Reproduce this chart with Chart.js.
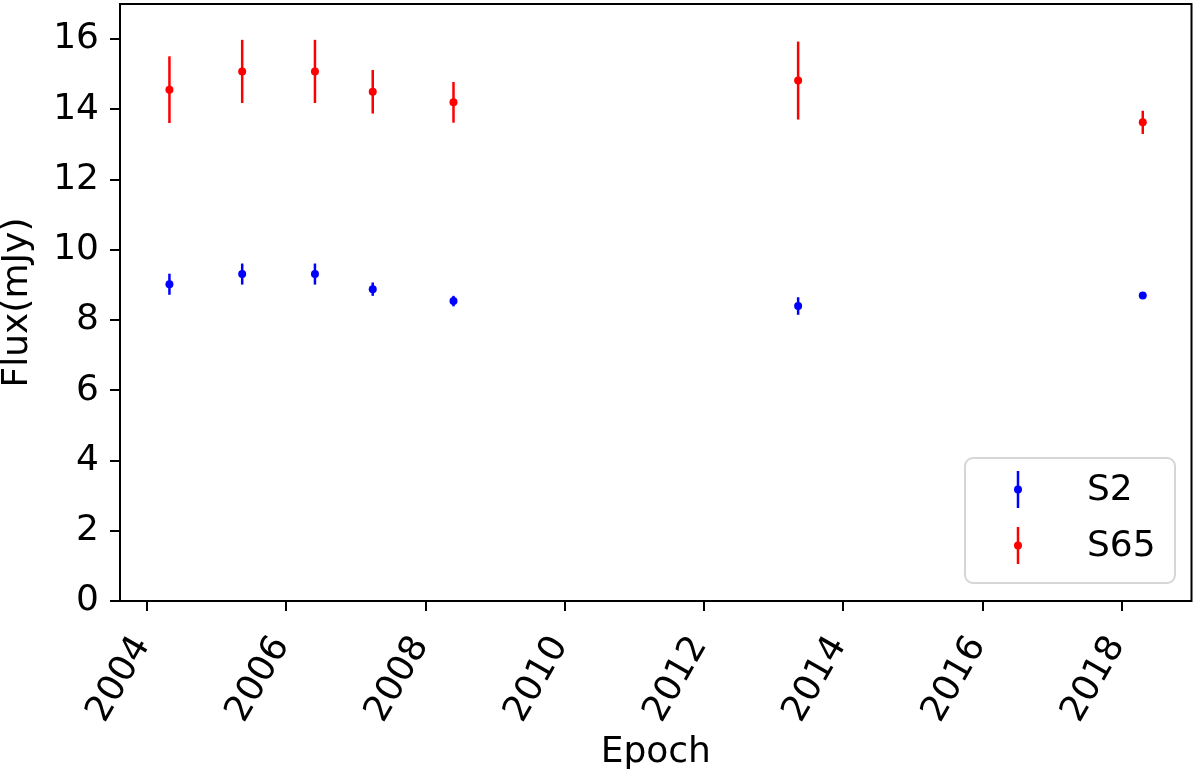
<!DOCTYPE html>
<html>
<head>
<meta charset="utf-8">
<script src="https://cdn.jsdelivr.net/npm/chart.js@4.4.1/dist/chart.umd.min.js"></script>
<style>
  html, body { margin: 0; padding: 0; background: #fff; }
  #wrap { width: 1200px; height: 780px; }
</style>
</head>
<body>
<div id="wrap"><canvas id="fluxChart"></canvas></div>
<script>
const epochs = [2004.32, 2005.365, 2006.41, 2007.24, 2008.40, 2013.35, 2018.30];
const s2Flux = [9.02, 9.31, 9.31, 8.88, 8.54, 8.40, 8.70];
const s2Err = [0.30, 0.30, 0.30, 0.19, 0.15, 0.25, 0.05];
const s65Flux = [14.56, 15.08, 15.08, 14.50, 14.20, 14.82, 13.63];
const s65Err = [0.95, 0.90, 0.90, 0.62, 0.58, 1.11, 0.33];

const xTicks = [2004, 2006, 2008, 2010, 2012, 2014, 2016, 2018];
const yTicks = [0, 2, 4, 6, 8, 10, 12, 14, 16];
const xRange = [2003.61, 2019.0];
const yRange = [0, 17];

const FONT = 'DejaVu Sans';

function toPoints(values, errors) {
  return epochs.map((x, i) => ({ x, y: values[i], err: errors[i] }));
}

// vertical error bars, drawn under the markers
const errorBars = {
  id: 'errorBars',
  beforeDatasetsDraw(chart) {
    const { ctx, scales: { x, y } } = chart;
    chart.data.datasets.forEach(ds => {
      ctx.save();
      ctx.strokeStyle = ds.backgroundColor;
      ctx.lineWidth = 2.5;
      ds.data.forEach(p => {
        const px = x.getPixelForValue(p.x);
        ctx.beginPath();
        ctx.moveTo(px, y.getPixelForValue(p.y - p.err));
        ctx.lineTo(px, y.getPixelForValue(p.y + p.err));
        ctx.stroke();
      });
      ctx.restore();
    });
  },
};

// axes box + matplotlib-style legend
const frameAndLegend = {
  id: 'frameAndLegend',
  afterDraw(chart) {
    const { ctx, chartArea: a } = chart;
    ctx.save();
    ctx.strokeStyle = '#000';
    ctx.lineWidth = 2;
    ctx.strokeRect(a.left, a.top, a.right - a.left, a.bottom - a.top);

    const bx = 965, by = 458, bw = 210, bh = 125;
    ctx.beginPath();
    ctx.roundRect(bx, by, bw, bh, 8);
    ctx.fillStyle = 'rgba(255,255,255,0.8)';
    ctx.fill();
    ctx.strokeStyle = '#d6d6d6';
    ctx.lineWidth = 2;
    ctx.stroke();

    ctx.font = `36px "${FONT}"`;
    ctx.textBaseline = 'middle';
    ctx.textAlign = 'left';
    chart.data.datasets.forEach((ds, i) => {
      const cy = 489.5 + i * 56;
      const mx = 1018;
      ctx.strokeStyle = ds.backgroundColor;
      ctx.lineWidth = 2.5;
      ctx.beginPath();
      ctx.moveTo(mx, cy - 18.5);
      ctx.lineTo(mx, cy + 18.5);
      ctx.stroke();
      ctx.fillStyle = ds.backgroundColor;
      ctx.beginPath();
      ctx.arc(mx, cy, 4, 0, Math.PI * 2);
      ctx.fill();
      ctx.fillStyle = '#000';
      ctx.fillText(ds.label, 1087, cy + 1);
    });
    ctx.restore();
  },
};

const ctx = document.getElementById('fluxChart').getContext('2d');
new Chart(ctx, {
  type: 'scatter',
  data: {
    datasets: [
      {
        label: 'S2',
        data: toPoints(s2Flux, s2Err),
        backgroundColor: '#0000ff',
        borderWidth: 0,
        pointRadius: 4,
        pointHoverRadius: 4,
      },
      {
        label: 'S65',
        data: toPoints(s65Flux, s65Err),
        backgroundColor: '#ff0000',
        borderWidth: 0,
        pointRadius: 4,
        pointHoverRadius: 4,
      },
    ],
  },
  options: {
    responsive: true,
    maintainAspectRatio: false,
    animation: false,
    devicePixelRatio: 1,
    layout: { padding: { top: 3.5, right: 8.5, left: 0, bottom: 0 } },
    scales: {
      x: {
        type: 'linear',
        min: xRange[0],
        max: xRange[1],
        afterBuildTicks: scale => { scale.ticks = xTicks.map(value => ({ value })); },
        afterFit: scale => {
          scale.height = 179;
          scale.paddingLeft = 0;
          scale.paddingRight = 0;
        },
        border: { display: false },
        grid: { drawOnChartArea: false, drawTicks: true, tickLength: 10, color: '#000', lineWidth: 2 },
        ticks: {
          autoSkip: false,
          minRotation: 60,
          maxRotation: 60,
          padding: 18,
          labelOffset: -5,
          color: '#000',
          font: { family: FONT, size: 36 },
          callback: v => String(v),
        },
        title: {
          display: true,
          text: 'Epoch',
          color: '#000',
          font: { family: FONT, size: 36 },
          padding: { top: 0, bottom: 6 },
        },
      },
      y: {
        min: yRange[0],
        max: yRange[1],
        afterBuildTicks: scale => { scale.ticks = yTicks.map(value => ({ value })); },
        afterFit: scale => {
          scale.width = 120;
          scale.paddingTop = 0;
          scale.paddingBottom = 0;
        },
        border: { display: false },
        grid: { drawOnChartArea: false, drawTicks: true, tickLength: 10, color: '#000', lineWidth: 2 },
        ticks: {
          padding: 11,
          color: '#000',
          font: { family: FONT, size: 36 },
          callback: v => String(v),
        },
        title: {
          display: true,
          text: 'Flux(mJy)',
          color: '#000',
          font: { family: FONT, size: 36, lineHeight: 1 },
          padding: { top: 0, bottom: 0 },
        },
      },
    },
    plugins: {
      legend: { display: false },
      tooltip: { enabled: false },
    },
  },
  plugins: [errorBars, frameAndLegend],
});
</script>
</body>
</html>
